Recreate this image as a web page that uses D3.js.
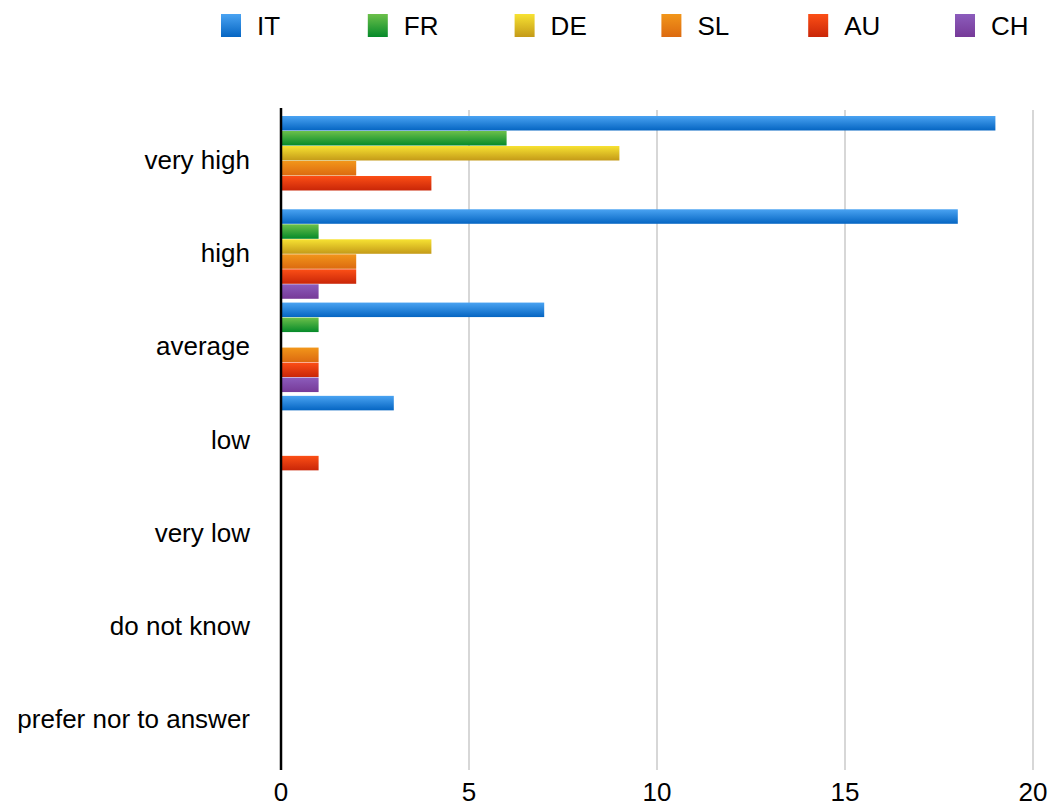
<!DOCTYPE html>
<html>
<head>
<meta charset="utf-8">
<script src="https://cdn.jsdelivr.net/npm/d3@7"></script>
<style>
  body { margin: 0; background: #fff; }
  text { font-family: "Liberation Sans", Arial, sans-serif; fill: #000; }
</style>
</head>
<body>
<svg id="chart" width="1052" height="807"></svg>
<script>
var categories = ["very high", "high", "average", "low", "very low", "do not know", "prefer nor to answer"];
var series = ["IT", "FR", "DE", "SL", "AU", "CH"];
var valuesIT = [19, 18, 7, 3, 0, 0, 0];
var valuesFR = [6, 1, 1, 0, 0, 0, 0];
var valuesDE = [9, 4, 0, 0, 0, 0, 0];
var valuesSL = [2, 2, 1, 0, 0, 0, 0];
var valuesAU = [4, 2, 1, 1, 0, 0, 0];
var valuesCH = [0, 1, 1, 0, 0, 0, 0];
var xTicks = [0, 5, 10, 15, 20];

var allValues = [valuesIT, valuesFR, valuesDE, valuesSL, valuesAU, valuesCH];
var colorsTop = ["#4aa3f2", "#6cc04a", "#f7e232", "#f2961a", "#fc4f16", "#8c5cbc"];
var colorsBot = ["#0565c2", "#058a2a", "#c49a18", "#dc6a10", "#c92608", "#763a98"];

var svg = d3.select("#chart");

var x = d3.scaleLinear().domain([0, 20]).range([281, 1033]);
var y0 = d3.scaleBand().domain(categories).range([113, 766]);
var y1 = d3.scaleBand().domain(series).range([3, 93]);

// gradients
var defs = svg.append("defs");
series.forEach(function(s, i) {
    var g = defs.append("linearGradient")
        .attr("id", "grad" + s)
        .attr("x1", 0).attr("y1", 0).attr("x2", 0).attr("y2", 1);
    g.append("stop").attr("offset", "0%").attr("stop-color", colorsTop[i]);
    g.append("stop").attr("offset", "100%").attr("stop-color", colorsBot[i]);
});

// grid lines
svg.append("g")
    .selectAll("line")
    .data(xTicks.slice(1))
    .enter()
    .append("line")
    .attr("x1", function(d) { return x(d); })
    .attr("x2", function(d) { return x(d); })
    .attr("y1", 110)
    .attr("y2", 770)
    .attr("stroke", "#bdbdbd")
    .attr("stroke-width", 1.2);

// bars
var rows = [];
categories.forEach(function(c, ci) {
    series.forEach(function(s, si) {
        rows.push({cat: c, ser: s, val: allValues[si][ci]});
    });
});

svg.append("g")
    .selectAll("rect")
    .data(rows.filter(function(d) { return d.val > 0; }))
    .enter()
    .append("rect")
    .attr("x", x(0))
    .attr("y", function(d) { return y0(d.cat) + y1(d.ser); })
    .attr("width", function(d) { return x(d.val) - x(0); })
    .attr("height", 14.5)
    .attr("fill", function(d) { return "url(#grad" + d.ser + ")"; });

// zero axis line
svg.append("line")
    .attr("x1", x(0)).attr("x2", x(0))
    .attr("y1", 108).attr("y2", 770)
    .attr("stroke", "#000")
    .attr("stroke-width", 2.5);

// category labels
svg.append("g")
    .selectAll("text")
    .data(categories)
    .enter()
    .append("text")
    .attr("x", 250)
    .attr("y", function(d) { return y0(d) + y0.bandwidth() / 2 + 9; })
    .attr("text-anchor", "end")
    .style("font-size", "26px")
    .text(function(d) { return d; });

// x tick labels
svg.append("g")
    .selectAll("text")
    .data(xTicks)
    .enter()
    .append("text")
    .attr("x", function(d) { return x(d); })
    .attr("y", 801)
    .attr("text-anchor", "middle")
    .style("font-size", "26px")
    .text(function(d) { return d; });

// legend
var legendX = d3.scalePoint().domain(series).range([221, 955]);
var leg = svg.append("g")
    .selectAll("g")
    .data(series)
    .enter()
    .append("g")
    .attr("transform", function(d) { return "translate(" + legendX(d) + ",0)"; });

leg.append("rect")
    .attr("x", 0)
    .attr("y", 14)
    .attr("width", 20)
    .attr("height", 23)
    .attr("fill", function(d) { return "url(#grad" + d + ")"; });

leg.append("text")
    .attr("x", 36)
    .attr("y", 35)
    .style("font-size", "26px")
    .text(function(d) { return d; });
</script>
</body>
</html>
